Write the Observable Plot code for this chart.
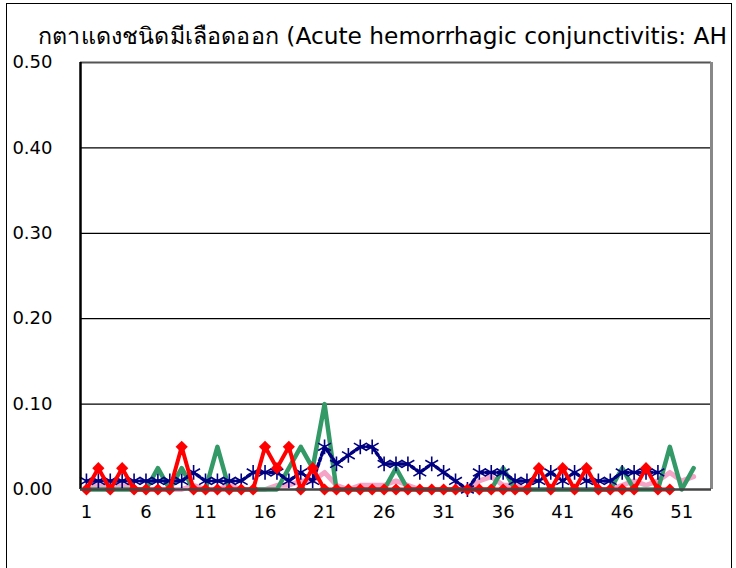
<!DOCTYPE html>
<html><head><meta charset="utf-8">
<script src="https://cdn.jsdelivr.net/npm/d3@7"></script>
<script src="https://cdn.jsdelivr.net/npm/@observablehq/plot@0.6"></script>
<style>
body{margin:0;background:#fff;}
#wrap{position:relative;width:736px;height:568px;overflow:hidden;background:#fff;}
#border{position:absolute;left:6px;top:3px;width:726px;height:620px;border:1px solid #000;box-sizing:border-box;}
#chart{position:absolute;left:0;top:0;}
#title{position:absolute;left:0;top:0;}
</style>
</head><body>
<div id="wrap"><div id="border"></div><div id="chart"></div>
<svg id="title" width="736" height="60"><text x="38" y="44" font-family="'DejaVu Sans', 'Noto Sans', sans-serif" font-size="23" fill="#000" textLength="689" lengthAdjust="spacingAndGlyphs">กตาแดงชนิดมีเลือดออก (Acute hemorrhagic conjunctivitis: AH</text></svg>
</div>
<script>
const titleText = "กตาแดงชนิดมีเลือดออก (Acute hemorrhagic conjunctivitis: AH";
const weeks = [1,2,3,4,5,6,7,8,9,10,11,12,13,14,15,16,17,18,19,20,21,22,23,24,25,26,27,28,29,30,31,32,33,34,35,36,37,38,39,40,41,42,43,44,45,46,47,48,49,50,51,52];
const xTicks = [1,6,11,16,21,26,31,36,41,46,51];
const yTicks = [0,0.1,0.2,0.3,0.4,0.5];
// navy series (asterisk markers), weeks 1-49
const navySeries = [0.01,0.01,0.01,0.01,0.01,0.01,0.01,0.01,0.01,0.02,0.01,0.01,0.01,0.01,0.02,0.02,0.02,0.01,0.02,0.01,0.05,0.03,0.04,0.05,0.05,0.03,0.03,0.03,0.02,0.03,0.02,0.01,0,0.02,0.02,0.02,0.01,0.01,0.01,0.02,0.01,0.02,0.01,0.01,0.01,0.02,0.02,0.02,0.02];
// pink series, weeks 1-52
const pinkSeries = [0,0.005,0,0.005,0,0,0,0,0,0.005,0,0,0.005,0,0,0,0.005,0.005,0.01,0.01,0.02,0.005,0,0.005,0.005,0.005,0.01,0.005,0,0,0,0,0,0.01,0.015,0.005,0.005,0,0,0,0,0,0,0,0,0.005,0.01,0.005,0.01,0.02,0.01,0.015];
// green series, weeks 1-52
const greenSeries = [0,0,0,0,0,0,0.025,0,0.025,0,0,0.05,0,0,0,0,0,0.025,0.05,0.025,0.1,0,0,0,0,0,0.025,0,0,0,0,0,0,0,0,0.025,0,0,0,0,0,0,0,0,0,0.025,0,0,0,0.05,0,0.025];
// red series (diamond markers), weeks 1-50
const redSeries = [0,0.025,0,0.025,0,0,0,0,0.05,0,0,0,0,0,0,0.05,0.025,0.05,0,0.025,0,0,0,0,0,0,0,0,0,0,0,0,0,0,0,0,0,0,0.025,0,0.025,0,0.025,0,0,0,0,0.025,0,0];

const toRows = vals => vals.map((v,i)=>({week: weeks[i], v}));
const navy = toRows(navySeries), pink = toRows(pinkSeries), green = toRows(greenSeries), red = toRows(redSeries);

const font = "'DejaVu Sans', sans-serif";
const chart = Plot.plot({
  width: 736, height: 568,
  marginLeft: 80, marginRight: 25, marginTop: 62, marginBottom: 79,
  style: {fontFamily: font, fontSize: "18px", background: "transparent", color: "#000", overflow: "visible"},
  x: {domain: [0.5, 53.5], label: null},
  y: {domain: [0, 0.5], label: null},
  marks: [
    Plot.ruleY([0.1,0.2,0.3,0.4], {stroke: "#000", strokeWidth: 1.3}),
    Plot.ruleY([0.5], {stroke: "#555", strokeWidth: 2}),
    Plot.ruleX([53.5], {stroke: "#888", strokeWidth: 3}),
    Plot.axisX({ticks: xTicks, tickFormat: d => String(d), tickSize: 0, tickPadding: 16, fontSize: 18, fill: "#000", label: null}),
    Plot.axisY({ticks: yTicks, tickFormat: d3.format(".2f"), tickSize: 0, tickPadding: 28, fontSize: 18, fill: "#000", label: null}),
    Plot.line(pink, {x: "week", y: "v", stroke: "#F5A3C7", strokeWidth: 5}),
    Plot.line(green, {x: "week", y: "v", stroke: "#339966", strokeWidth: 4.5}),
    Plot.line(navy, {x: "week", y: "v", stroke: "#000080", strokeWidth: 3.5, strokeDasharray: "3 3", strokeLinecap: "round"}),
    Plot.dot(navy, {x: "week", y: "v", symbol: "asterisk", r: 7, stroke: "#000080", strokeWidth: 1.6}),
    Plot.line(red, {x: "week", y: "v", stroke: "#FF0000", strokeWidth: 4}),
    Plot.dot(red, {x: "week", y: "v", symbol: "diamond2", r: 5.5, fill: "#FF0000", stroke: "none"}),
    Plot.ruleX([0.5], {stroke: "#000", strokeWidth: 2.5}),
    Plot.ruleY([0], {stroke: "#444", strokeWidth: 2.5})
  ]
});
document.getElementById("chart").appendChild(chart);
</script>
</body></html>
